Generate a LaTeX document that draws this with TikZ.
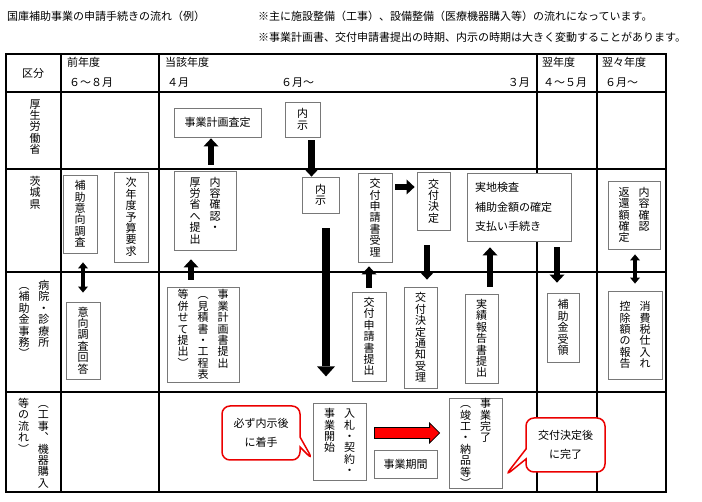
\documentclass[tikz,border=0pt]{standalone}
\usepackage{fontspec}
\setmainfont{Noto Sans CJK JP}
\usepackage{tikz}
\usetikzlibrary{arrows.meta,calc,shapes.callouts}
\definecolor{boxgray}{RGB}{120,120,120}
\definecolor{fukired}{RGB}{235,0,0}
\newcommand{\tate}[1]{\vtop{\baselineskip=11.4pt\lineskiplimit=-\maxdimen\tatechar#1\relax}}
\def\tatechar#1{\ifx\relax#1\else\hbox to 11pt{\hss#1\hss}\expandafter\tatechar\fi}
\newcommand{\tatetwo}[2]{\hbox{\tate{#2}\hskip 9pt\tate{#1}}}
\newcommand{\tatethree}[3]{\hbox{\tate{#3}\hskip 9pt\tate{#2}\hskip 9pt\tate{#1}}}

\begin{document}
\begin{tikzpicture}[x=1pt, y=-1pt, every node/.style={font=\fontsize{11}{13}\selectfont, inner sep=0pt},
  box/.style={draw=boxgray, fill=white, line width=0.8pt},
  arr/.style={line width=6.5pt, -{Triangle[length=8pt,width=15pt,line width=0pt]}},
  bigarr/.style={line width=8pt, -{Triangle[length=10pt,width=18pt,line width=0pt]}},
  dblarr/.style={line width=3.5pt, {Triangle[length=6pt,width=10pt,line width=0pt]}-{Triangle[length=6pt,width=10pt,line width=0pt]}},
  fuki/.style={rectangle callout, draw=fukired, line width=1.5pt, rounded corners=8pt, fill=white, align=center, font=\fontsize{11}{18.5}\selectfont, callout pointer width=10pt}]
\useasboundingbox (0,0) rectangle (702,502);

\node[anchor=west] (title) at (7,16) {国庫補助事業の申請手続きの流れ（例）};
\node[anchor=west] (noteA) at (258,16) {※主に施設整備（工事）、設備整備（医療機器購入等）の流れになっています。};
\node[anchor=west] (noteB) at (258,37) {※事業計画書、交付申請書提出の時期、内示の時期は大きく変動することがあります。};

\draw[line width=1.1pt] (6,54) rectangle (666,492);
\foreach \y in {92,169,272,392} \draw[line width=1.1pt] (6,\y) -- (666,\y);
\foreach \x in {61,159,537,597} \draw[line width=1.1pt] (\x,54) -- (\x,492);

\node (kubun) at (33,73) {区分};
\node[anchor=west] (zen) at (67,62) {前年度};
\node[anchor=west] (zenm) at (69,83) {６～８月};
\node[anchor=west] (togai) at (165,62) {当該年度};
\node[anchor=west] (togaiA) at (167,83) {４月};
\node[anchor=west] (togaiB) at (281,83) {６月～};
\node[anchor=east] (togaiC) at (530,83) {３月};
\node[anchor=west] (yoku) at (542,62) {翌年度};
\node[anchor=west] (yokum) at (543,83) {４～５月};
\node[anchor=west] (yokuyoku) at (602,62) {翌々年度};
\node[anchor=west] (yokuyokum) at (605,83) {６月～};

\node (rkosei) at (35,127) {\tate{厚生労働省}};
\node[anchor=north] (ribaraki) at (35,176) {\tate{茨城県}};
\node[anchor=north] (rbyoin) at (34,280) {\tatetwo{病院・診療所}{︵補助金事務︶}};
\node[anchor=north] (rkoji) at (33.5,398) {\tatetwo{︵工事︑機器購入}{等の流れ︶}};

\node[box, minimum width=87pt, minimum height=29pt] (satei) at (217.5,122.5) {事業計画査定};
\node[box, minimum width=35pt, minimum height=35pt] (naijiA) at (302.5,119.5) {\tate{内示}};

\node[box, minimum width=34pt, minimum height=78pt] (ikou) at (80,214) {\tate{補助意向調査}};
\node[box, minimum width=34pt, minimum height=90pt] (yosan) at (131,217) {\tate{次年度予算要求}};
\node[box, minimum width=62pt, minimum height=79pt] (naiyo) at (205,210.5) {\tatetwo{内容確認・}{厚労省へ提出}};
\node[box, minimum width=37pt, minimum height=36pt] (naijiB) at (320.5,195) {\tate{内示}};
\node[box, minimum width=34pt, minimum height=89pt] (juri) at (375,217.5) {\tate{交付申請書受理}};
\node[box, minimum width=33pt, minimum height=58pt] (kettei) at (433.5,201) {\tate{交付決定}};
\node[box, minimum width=104pt, minimum height=68pt, text width=88pt, inner xsep=8pt, align=left, font=\fontsize{11}{19.5}\selectfont] (kensa) at (519,207) {実地検査\\補助金額の確定\\支払い手続き};
\node[box, minimum width=52pt, minimum height=68pt] (henkan) at (634,215) {\tatetwo{内容確認}{返還額確定}};

\node[box, minimum width=34pt, minimum height=77pt] (kaitou) at (83,340.5) {\tate{意向調査回答}};
\node[box, minimum width=72pt, minimum height=95pt] (keikaku) at (203,334.5) {\tatethree{事業計画書提出}{︵見積書・工程表}{等併せて提出︶}};
\node[box, minimum width=34pt, minimum height=89pt] (shinsei) at (369,336.5) {\tate{交付申請書提出}};
\node[box, minimum width=33pt, minimum height=101pt] (tsuchi) at (420.5,337.5) {\tate{交付決定通知受理}};
\node[box, minimum width=33pt, minimum height=89pt] (jisseki) at (481.5,338.5) {\tate{実績報告書提出}};
\node[box, minimum width=32pt, minimum height=69pt] (juryo) at (563,327.5) {\tate{補助金受領}};
\node[box, minimum width=54pt, minimum height=88pt] (shohi) at (635,335) {\tatetwo{消費税仕入れ}{控除額の報告}};

\node[box, minimum width=53pt, minimum height=77pt] (nyusatsu) at (339.5,441.5) {\tatetwo{入札・契約・}{事業開始}};
\node[box, minimum width=63pt, minimum height=28pt] (kikan) at (405.5,464) {事業期間};
\node[box, minimum width=53pt, minimum height=90pt] (kanryo) at (475.5,443) {\tatetwo{事業完了}{︵竣工・納品等︶}};

\coordinate (tipA) at (313,460);
\coordinate (tipB) at (505,476);
\node[fuki, minimum width=78pt, minimum height=54pt, callout absolute pointer={(tipA)}] (fukiA) at (261,433) {必ず内示後\\に着手};
\node[fuki, minimum width=79pt, minimum height=54pt, callout absolute pointer={(tipB)}] (fukiB) at (565.5,445) {交付決定後\\に完了};

\coordinate (rs) at ($(nyusatsu.east)+(8,-8.5)$);
\coordinate (re) at ($(kanryo.west)+(-9,-10)$);
\draw[line width=0.8pt, fill=red] ($(rs)+(0,-5.5)$) -- ($(re)+(-10,-5.5)$) -- ($(re)+(-10,-10)$) -- (re) -- ($(re)+(-10,10)$) -- ($(re)+(-10,5.5)$) -- ($(rs)+(0,5.5)$) -- cycle;

\coordinate (a1) at ($(naiyo.north)+(6,0)$);
\draw[arr, shorten <=6pt, shorten >=1pt] (a1) -- (a1 |- satei.south);
\coordinate (a2) at ($(naijiA.south)!0.5!(naijiB.north)$);
\draw[arr, shorten <=3pt] (a2 |- naijiA.south) -- (a2 |- naijiB.north);
\coordinate (l1) at ($(naijiB.south)+(5.5,15)$);
\coordinate (l2) at ($(l1)+(0,148)$);
\draw[bigarr] (l1) -- (l2);
\draw[dblarr, shorten <=9pt, shorten >=9pt] (kaitou.north) -- (kaitou.north |- ikou.south);
\coordinate (a5) at ($(keikaku.north)+(-12,0)$);
\draw[arr, shorten <=7pt, shorten >=9pt] (a5) -- (a5 |- naiyo.south);
\draw[arr, shorten <=4pt, shorten >=4pt] (shinsei.north) -- (shinsei.north |- juri.south);
\coordinate (a7) at ($(kettei.west)+(0,-14)$);
\draw[arr, shorten <=3pt, shorten >=2pt] (a7 -| juri.east) -- (a7);
\coordinate (a8) at ($(kettei.south)!0.5!(tsuchi.north)$);
\draw[arr, shorten <=15pt, shorten >=7pt] (a8 |- kettei.south) -- (a8 |- tsuchi.north);
\coordinate (a9) at ($(jisseki.north)+(8.5,0)$);
\draw[arr, shorten <=7pt, shorten >=6pt] (a9) -- (a9 |- kensa.south);
\coordinate (a10) at ($(juryo.north)+(-6,0)$);
\draw[arr, shorten <=6pt, shorten >=10pt] (a10 |- kensa.south) -- (a10);
\draw[dblarr, shorten <=7pt, shorten >=5pt] (shohi.north) -- (shohi.north |- henkan.south);
\end{tikzpicture}
\end{document}
